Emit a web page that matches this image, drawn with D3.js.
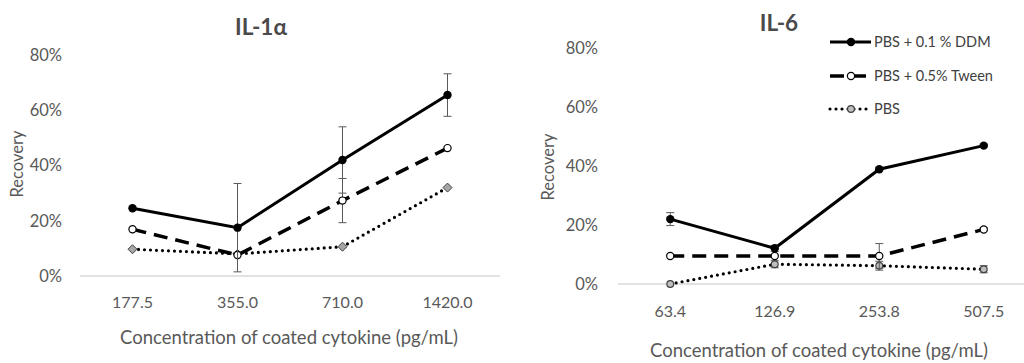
<!DOCTYPE html>
<html><head><meta charset="utf-8">
<script src="https://cdn.jsdelivr.net/npm/d3@7"></script>
<style>body{margin:0;background:#fff}svg{display:block}text{font-family:Lato,"Open Sans",sans-serif}</style>
</head><body><svg id="c" width="1024" height="363"></svg>
<script>
// ---- data ----
const seriesNames = ["PBS + 0.1 % DDM", "PBS + 0.5% Tween", "PBS"];
const yTicks = [0, 20, 40, 60, 80];

const il1Categories = ["177.5", "355.0", "710.0", "1420.0"];
const il1DDM = [24.5, 17.5, 42, 65.5];
const il1DDMErr = [0, 16, 12, 7.7];
const il1Tween = [16.9, 7.6, 27.3, 46.3];
const il1TweenErr = [0, 0, 8, 0];
const il1PBS = [9.7, 8, 10.6, 32];
const il1PBSErr = [0, 0, 0, 0];

const il6Categories = ["63.4", "126.9", "253.8", "507.5"];
const il6DDM = [22, 12.1, 38.9, 46.9];
const il6DDMErr = [2.2, 1, 0.6, 0.5];
const il6Tween = [9.5, 9.5, 9.5, 18.5];
const il6TweenErr = [0, 0, 4.2, 0.5];
const il6PBS = [0, 6.7, 6.2, 5];
const il6PBSErr = [0, 1.2, 1.5, 1.2];

const svg = d3.select("#c");
const GRAY = "#595959";

const styles = [
  {dash: null, width: 3, cap: "butt", marker: "dot"},
  {dash: "14,8", width: 3.5, cap: "butt", marker: "open"},
  {dash: "0,6", width: 3.2, cap: "round", marker: "pbs"}
];

function panel(cfg) {
  const g = svg.append("g");
  const x = d3.scaleBand().domain(cfg.categories).range([cfg.x0, cfg.x1]);
  const y = d3.scaleLinear().domain([0, 80]).range([cfg.yb, cfg.yt]);

  g.append("line").attr("x1", cfg.x0).attr("x2", cfg.x1).attr("y1", y(0)).attr("y2", y(0))
    .attr("stroke", "#d9d9d9").attr("stroke-width", 1.3);

  g.selectAll(".yt").data(yTicks).join("text")
    .attr("x", cfg.yLabelX).attr("y", d => y(d)).attr("dy", "0.36em")
    .attr("text-anchor", "end").attr("fill", GRAY).attr("font-size", 16.5)
    .text(d => d + "%");

  g.selectAll(".xt").data(cfg.categories).join("text")
    .attr("x", d => x(d) + x.bandwidth() / 2).attr("y", cfg.xLabelY)
    .attr("text-anchor", "middle").attr("fill", GRAY).attr("font-size", 16)
    .text(d => d);

  g.append("text").attr("x", cfg.titleX).attr("y", cfg.titleY).attr("text-anchor", "middle")
    .attr("font-weight", "bold").attr("font-size", 22.5).attr("fill", "#4a4a4a").text(cfg.title);

  g.append("text").attr("transform", `translate(${cfg.yTitleX},${cfg.yTitleY}) rotate(-90)`)
    .attr("text-anchor", "middle").attr("fill", GRAY).attr("font-size", 16.5).text("Recovery");
  g.append("text").attr("x", cfg.xTitleX).attr("y", cfg.xTitleY).attr("text-anchor", "middle")
    .attr("fill", GRAY).attr("font-size", 18.5).text("Concentration of coated cytokine (pg/mL)");

  const cx = d => x(d) + x.bandwidth() / 2;
  const line = d3.line().x(d => cx(d.c)).y(d => y(d.v));

  const order = [2, 1, 0];
  order.forEach(i => {
    const s = cfg.series[i], st = styles[i];
    const pts = cfg.categories.map((c, j) => ({c, v: s.values[j], e: s.err[j]}));
    const eg = g.append("g");
    pts.filter(p => p.e > 0).forEach(p => {
      const xx = cx(p.c);
      eg.append("line").attr("x1", xx).attr("x2", xx).attr("y1", y(p.v - p.e)).attr("y2", y(p.v + p.e))
        .attr("stroke", GRAY).attr("stroke-width", 1);
      [p.v - p.e, p.v + p.e].forEach(v => eg.append("line").attr("x1", xx - 4).attr("x2", xx + 4)
        .attr("y1", y(v)).attr("y2", y(v)).attr("stroke", GRAY).attr("stroke-width", 1));
    });
    g.append("path").datum(pts).attr("d", line).attr("fill", "none").attr("stroke", "#000")
      .attr("stroke-width", st.width).attr("stroke-dasharray", st.dash).attr("stroke-linecap", st.cap);
    pts.forEach(p => drawMarker(g, cx(p.c), y(p.v), st.marker, cfg.pbsShape));
  });
}

function drawMarker(g, px, py, kind, pbsShape) {
  if (kind === "dot") {
    g.append("circle").attr("cx", px).attr("cy", py).attr("r", 4.2).attr("fill", "#000");
  } else if (kind === "open") {
    g.append("circle").attr("cx", px).attr("cy", py).attr("r", 3.6).attr("fill", "#fff")
      .attr("stroke", "#000").attr("stroke-width", 1.2);
  } else if (pbsShape === "diamond") {
    const s = 4.5;
    g.append("path").attr("d", `M${px},${py - s}L${px + s},${py}L${px},${py + s}L${px - s},${py}Z`)
      .attr("fill", "#a6a6a6").attr("stroke", "#404040").attr("stroke-width", 1);
  } else {
    g.append("circle").attr("cx", px).attr("cy", py).attr("r", 3.4).attr("fill", "#bfbfbf")
      .attr("stroke", "#404040").attr("stroke-width", 1.2);
  }
}

panel({
  title: "IL-1α", categories: il1Categories,
  series: [{values: il1DDM, err: il1DDMErr}, {values: il1Tween, err: il1TweenErr}, {values: il1PBS, err: il1PBSErr}],
  x0: 80, x1: 500, yb: 276, yt: 55, yLabelX: 62, xLabelY: 308,
  titleX: 261, titleY: 35, yTitleX: 23, yTitleY: 164, xTitleX: 289, xTitleY: 344, pbsShape: "diamond"
});
panel({
  title: "IL-6", categories: il6Categories,
  series: [{values: il6DDM, err: il6DDMErr}, {values: il6Tween, err: il6TweenErr}, {values: il6PBS, err: il6PBSErr}],
  x0: 618, x1: 1036, yb: 284, yt: 48, yLabelX: 598, xLabelY: 317,
  titleX: 779, titleY: 31, yTitleX: 554, yTitleY: 167, xTitleX: 819, xTitleY: 357, pbsShape: "circle"
});

const legY = [42, 76, 109];
const lg = svg.append("g");
seriesNames.forEach((name, i) => {
  const st = styles[i];
  lg.append("line").attr("x1", 830).attr("x2", 871).attr("y1", legY[i]).attr("y2", legY[i])
    .attr("stroke", "#000").attr("stroke-width", st.width).attr("stroke-dasharray", st.dash)
    .attr("stroke-linecap", st.cap);
  drawMarker(lg, 851, legY[i], st.marker, "circle");
  lg.append("text").attr("x", 874).attr("y", legY[i]).attr("dy", "0.36em").attr("font-size", 14.5)
    .attr("fill", "#404040").text(name);
});
</script></body></html>
